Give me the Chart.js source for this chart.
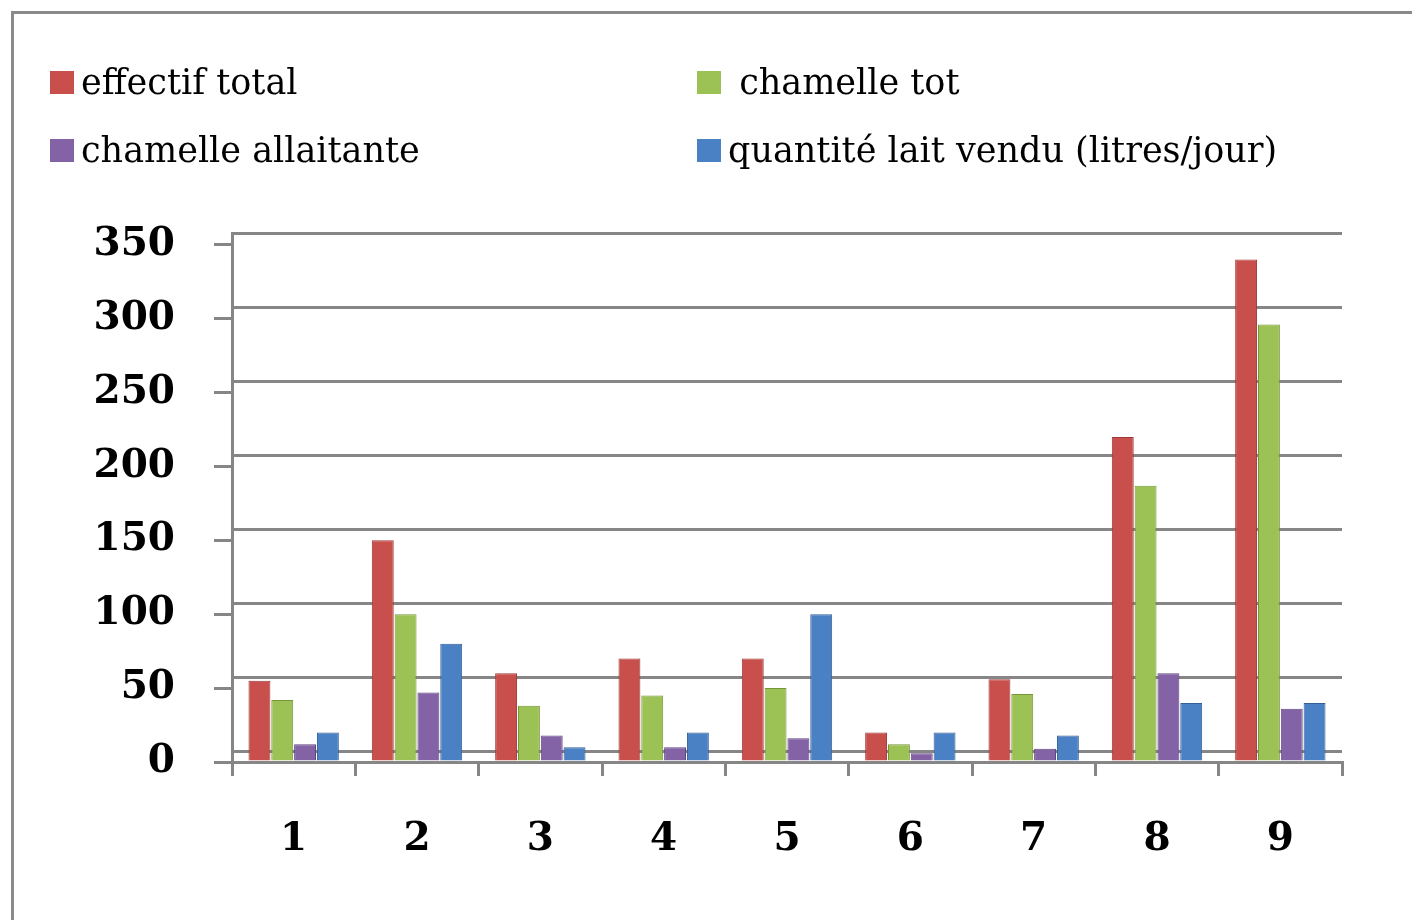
<!DOCTYPE html>
<html>
<head>
<meta charset="utf-8">
<script src="https://cdn.jsdelivr.net/npm/chart.js@4"></script>
<style>
    body { margin: 0; background: #fff; }
    #wrap { position: relative; width: 1412px; height: 920px; overflow: hidden; }
    #frame { position: absolute; left: 11px; top: 11px; width: 1430px; height: 940px; border: 3px solid #8a8a8a; }
    #chart { position: absolute; left: 0; top: 0; }
    #legend {
        position: absolute; left: 50px; top: 62px;
        display: grid; grid-template-columns: 647px auto; grid-auto-rows: 68px;
        font-family: "DejaVu Serif", serif; font-size: 35px; color: #000;
    }
    #legend .item { display: flex; align-items: center; height: 40px; white-space: pre; }
    #legend .box { width: 24px; height: 23px; margin-right: 7px; }
</style>
</head>
<body>
<div id="wrap">
    <div id="frame"></div>
    <canvas id="chart" width="1412" height="920"></canvas>
    <div id="legend"></div>
</div>
<script>
const categories = ["1", "2", "3", "4", "5", "6", "7", "8", "9"];
const effectifTotal = [55, 150, 60, 70, 70, 20, 56, 220, 340];
const chamelleTot = [42, 100, 38, 45, 50, 12, 46, 187, 296];
const chamelleAllaitante = [12, 47, 18, 10, 16, 6, 9, 60, 36];
const laitVendu = [20, 80, 10, 20, 100, 20, 18, 40, 40];

const gridGray = "#868686";

// legend drawn as html, two columns like the excel one
const htmlLegend = {
    id: "htmlLegend",
    afterUpdate(chart) {
        const box = document.getElementById("legend");
        box.innerHTML = "";
        chart.data.datasets.forEach((ds) => {
            let item = document.createElement("div");
            item.className = "item";
            let sw = document.createElement("span");
            sw.className = "box";
            sw.style.background = ds.backgroundColor;
            let txt = document.createElement("span");
            txt.textContent = ds.label;
            item.appendChild(sw);
            item.appendChild(txt);
            box.appendChild(item);
        });
    }
};

new Chart(document.getElementById("chart"), {
    type: "bar",
    data: {
        labels: categories,
        datasets: [{
            label: "effectif total",
            data: effectifTotal,
            backgroundColor: "#C94F4C",
            borderColor: "#9E3836",
            borderWidth: 1
        }, {
            label: " chamelle tot",
            data: chamelleTot,
            backgroundColor: "#9CC154",
            borderColor: "#76953A",
            borderWidth: 1
        }, {
            label: "chamelle allaitante",
            data: chamelleAllaitante,
            backgroundColor: "#8462A6",
            borderColor: "#5F4580",
            borderWidth: 1
        }, {
            label: "quantité lait vendu (litres/jour)",
            data: laitVendu,
            backgroundColor: "#4A80C4",
            borderColor: "#345E96",
            borderWidth: 1
        }]
    },
    options: {
        responsive: false,
        devicePixelRatio: 1,
        animation: false,
        categoryPercentage: 0.74,
        barPercentage: 0.96,
        layout: { padding: { top: 233, right: 70, bottom: 0, left: 0 } },
        plugins: {
            legend: { display: false },
            tooltip: { enabled: false }
        },
        scales: {
            x: {
                grid: { drawOnChartArea: false, color: gridGray, lineWidth: 3, tickLength: 14 },
                border: { color: gridGray, width: 3 },
                ticks: {
                    color: "#000",
                    padding: 40,
                    font: { family: "DejaVu Serif", size: 39, weight: "bold" }
                },
                afterFit(scale) { scale.height = 158; }
            },
            y: {
                min: 0,
                max: 358,
                grid: { drawOnChartArea: false, color: gridGray, lineWidth: 3, tickLength: 18 },
                border: { color: gridGray, width: 3 },
                ticks: {
                    stepSize: 50,
                    includeBounds: false,
                    color: "#000",
                    padding: 39,
                    font: { family: "DejaVu Serif", size: 39, weight: "bold" }
                },
                afterFit(scale) { scale.width = 232; }
            },
            // back wall gridlines, sit a bit higher than the front axis
            wall: {
                position: "left",
                min: -7.44,
                max: 350.56,
                grid: { color: gridGray, lineWidth: 3, drawTicks: false },
                border: { display: false },
                ticks: { stepSize: 50, includeBounds: false, display: false },
                afterFit(scale) { scale.width = 0; }
            }
        }
    },
    plugins: [htmlLegend]
});
</script>
</body>
</html>
